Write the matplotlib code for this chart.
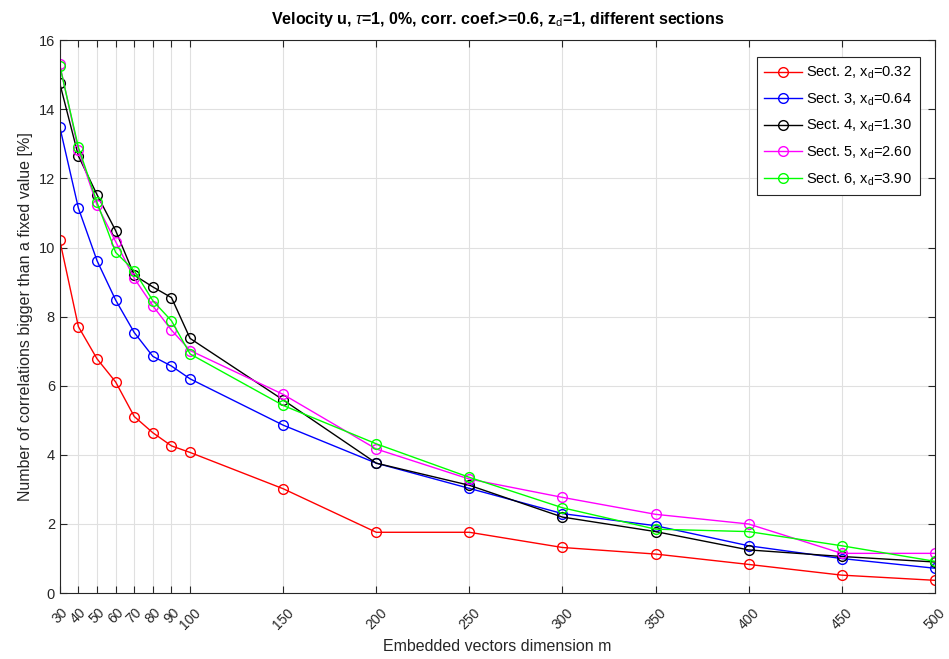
import matplotlib.pyplot as plt

plt.rcParams['font.family'] = ['Liberation Sans', 'DejaVu Sans']
plt.rcParams['mathtext.fontset'] = 'custom'
plt.rcParams['mathtext.rm'] = 'Liberation Sans'
plt.rcParams['mathtext.it'] = 'Liberation Sans:italic'

# embedded vector dimension m
dims = [30, 40, 50, 60, 70, 80, 90, 100, 150, 200, 250, 300, 350, 400, 450, 500]

# percentage of correlations above threshold, one list per section
sect2 = [10.21, 7.71, 6.78, 6.11, 5.11, 4.64, 4.26, 4.07, 3.02, 1.76, 1.76, 1.32, 1.13, 0.83, 0.52, 0.37]
sect3 = [13.49, 11.14, 9.62, 8.48, 7.54, 6.85, 6.57, 6.20, 4.86, 3.76, 3.03, 2.30, 1.95, 1.37, 1.00, 0.72]
sect4 = [14.75, 12.65, 11.53, 10.49, 9.20, 8.86, 8.55, 7.37, 5.59, 3.76, 3.12, 2.20, 1.78, 1.25, 1.06, 0.90]
sect5 = [15.30, 12.82, 11.23, 10.17, 9.11, 8.31, 7.61, 7.02, 5.75, 4.17, 3.30, 2.77, 2.28, 2.00, 1.15, 1.15]
sect6 = [15.26, 12.90, 11.31, 9.86, 9.33, 8.46, 7.88, 6.92, 5.43, 4.32, 3.35, 2.47, 1.85, 1.78, 1.37, 0.92]

series = [sect2, sect3, sect4, sect5, sect6]
labels = [r'Sect. 2, x$_\mathrm{d}$=0.32', r'Sect. 3, x$_\mathrm{d}$=0.64',
          r'Sect. 4, x$_\mathrm{d}$=1.30', r'Sect. 5, x$_\mathrm{d}$=2.60',
          r'Sect. 6, x$_\mathrm{d}$=3.90']
colors = ['#ff0000', '#0000ff', '#000000', '#ff00ff', '#00ff00']

fig = plt.figure(figsize=(9.49, 6.59), dpi=100)
ax = fig.add_axes([0.063, 0.1, 0.922, 0.839])

for y, lab, c in zip(series, labels, colors):
    ax.plot(dims, y, color=c, lw=1.0, marker='o', ms=7, mfc='none',
            mec=c, mew=1.0, label=lab)

ax.set_xlim(30, 500)
ax.set_ylim(0, 16)
ax.set_xticks(dims)
ax.set_xticklabels([str(d) for d in dims], rotation=45, ha='center')
ax.set_yticks(range(0, 17, 2))
ax.grid(True, color='#e0e0e0', lw=0.8)
ax.set_axisbelow(True)
ax.tick_params(direction='in', top=True, right=True, length=5,
               labelsize=10.5, colors='#262626')
ax.tick_params(axis='x', pad=9, labelsize=10)
for sp in ax.spines.values():
    sp.set_color('#262626')
    sp.set_linewidth(0.8)

ax.set_xlabel('Embedded vectors dimension m', fontsize=11.5, color='#262626')
ax.xaxis.set_label_coords(0.5, -0.083)
ax.set_ylabel('Number of correlations bigger than a fixed value [%]',
              fontsize=11.5, color='#262626')
ax.set_title(r'Velocity u, $\tau$=1, 0%, corr. coef.>=0.6, z$_\mathrm{d}$=1, different sections',
             fontsize=11.5, fontweight='bold', pad=12)

leg = ax.legend(loc='upper right', bbox_to_anchor=(0.991, 0.982), fontsize=10.5,
                fancybox=False, edgecolor='#262626', framealpha=1,
                handlelength=2.6, borderpad=0.5, labelspacing=0.7,
                handletextpad=0.3)
leg.get_frame().set_linewidth(0.8)

fig.savefig('out.png', dpi=100)
